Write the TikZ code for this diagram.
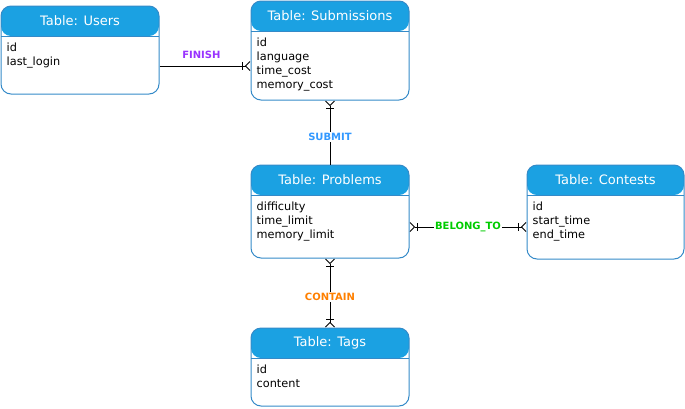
\documentclass[tikz,border=0pt]{standalone}
\usepackage{fontspec}
\setmainfont{DejaVu Sans}
\usetikzlibrary{arrows.meta,positioning}
\definecolor{tblhead}{RGB}{27,161,226}
\definecolor{tblline}{RGB}{52,138,200}
\definecolor{finishc}{RGB}{153,51,255}
\definecolor{submitc}{RGB}{51,153,255}
\definecolor{belongc}{RGB}{0,204,0}
\definecolor{containc}{RGB}{255,128,0}
\tikzset{
  crow/.tip={Bar[width=8pt,sep=1.5pt] Straight Barb[reversed,length=4.5pt,width=9pt]},
  tbl/.style={rectangle, rounded corners=10pt, draw=tblline, line width=1pt, minimum width=158pt,
    path picture={\fill[tblhead] (path picture bounding box.north west) rectangle ([yshift=-30pt]path picture bounding box.north east);
      \draw[tblline, line width=1pt] ([yshift=-30pt]path picture bounding box.north west) -- ([yshift=-30pt]path picture bounding box.north east);}},
  hdr/.style={text=white, font=\fontsize{13}{15}\selectfont},
  fld/.style={anchor=north west, align=left, inner sep=0pt, font=\fontsize{11.3}{14}\selectfont},
  rel/.style={fill=white, inner sep=1.5pt, font=\bfseries\fontsize{10}{12}\selectfont},
  conn/.style={line width=1pt, black}
}
\begin{document}
\begin{tikzpicture}[x=1pt, y=-1pt]
\useasboundingbox (0,0) rectangle (685,408);

% Tables
\node[tbl, minimum height=88pt] (users) at (80,50) {};
\node[tbl, minimum height=99pt] (subs) at (330,50.5) {};
\node[tbl, minimum height=93pt] (prob) at (330,211.5) {};
\node[tbl, minimum width=157pt, minimum height=94pt] (cont) at (605.5,212) {};
\node[tbl, minimum height=78pt] (tags) at (330,367) {};

% Table headers
\node[hdr] at ([yshift=-15pt]users.north) {Table: Users};
\node[hdr] at ([yshift=-15pt]subs.north) {Table: Submissions};
\node[hdr] at ([yshift=-15pt]prob.north) {Table: Problems};
\node[hdr] at ([yshift=-15pt]cont.north) {Table: Contests};
\node[hdr] at ([yshift=-15pt]tags.north) {Table: Tags};

% Table fields
\node[fld] at ([shift={(6pt,-37pt)}]users.north west) {id\\last\_login};
\node[fld] at ([shift={(6pt,-37pt)}]subs.north west) {id\\language\\time\_cost\\memory\_cost};
\node[fld] at ([shift={(6pt,-37pt)}]prob.north west) {difficulty\\time\_limit\\memory\_limit};
\node[fld] at ([shift={(6pt,-37pt)}]cont.north west) {id\\start\_time\\end\_time};
\node[fld] at ([shift={(6pt,-37pt)}]tags.north west) {id\\content};

% Relations
\draw[conn, -crow] ([yshift=-16pt]users.east) -- node[rel, pos=0.46, above=5pt, fill=none, text=finishc] {FINISH} ([yshift=-15.5pt]subs.west);
\draw[conn, crow-] (subs.south) -- node[rel, pos=0.57, text=submitc] {SUBMIT} (prob.north);
\draw[conn, crow-crow] ([yshift=-15.5pt]prob.east) -- node[rel, pos=0.5, text=belongc] {BELONG\_TO} ([yshift=-15pt]cont.west);
\draw[conn, crow-crow] (prob.south) -- node[rel, pos=0.56, text=containc] {CONTAIN} (tags.north);
\end{tikzpicture}
\end{document}
